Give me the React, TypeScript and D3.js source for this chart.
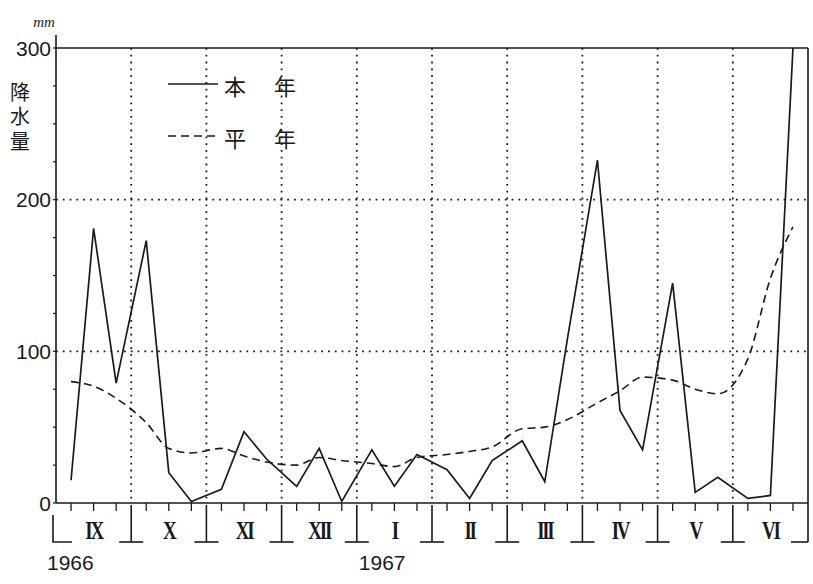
import React, { useEffect, useRef } from 'react';
import * as d3 from 'd3';

// month labels (Sept 1966 - June 1967), each month split in 3 dekads
const months = ['IX', 'X', 'XI', 'XII', 'I', 'II', 'III', 'IV', 'V', 'VI'];
const dekadFrac = [0.2, 0.5, 0.8];

// this year's precipitation per dekad (mm)
const thisYear = [
  15, 181, 79,
  173, 20, 1,
  9, 47, 29,
  11, 36, 1,
  35, 11, 32,
  22, 3, 28,
  41, 14, 108,
  226, 61, 35,
  145, 7, 17,
  3, 5, 300,
];

// normal year precipitation per dekad (mm)
const normalYear = [
  80, 77, 69,
  53, 36, 33,
  36, 31, 27,
  25, 30, 28,
  26, 24, 30,
  32, 34, 37,
  49, 50, 55,
  66, 74, 83,
  81, 75, 72,
  95, 148, 182,
];

const yTicks = [0, 100, 200, 300];
const yearLabels = [
  { text: '1966', month: 0 },
  { text: '1967', month: 4 },
];

function App() {
  const svgRef = useRef<SVGSVGElement | null>(null);

  useEffect(() => {
    const svg = d3.select(svgRef.current);
    const width = 813;
    const height = 584;
    svg.attr('width', width).attr('height', height);
    svg.selectAll('*').remove();

    const left = 56;
    const right = 808;
    const top = 48;
    const bottom = 503;
    const ink = '#1a1a1a';

    const x = d3.scaleLinear().domain([0, months.length]).range([left, right]);
    const y = d3.scaleLinear().domain([0, 300]).range([bottom, top]);

    const pos = (i: number) => Math.floor(i / 3) + dekadFrac[i % 3];

    // dotted grid
    const grid = svg.append('g').attr('stroke', ink).attr('stroke-width', 1.8)
      .attr('stroke-dasharray', '1.8,5');
    [100, 200].forEach((v) => {
      grid.append('line').attr('x1', left).attr('x2', right)
        .attr('y1', y(v)).attr('y2', y(v));
    });
    d3.range(1, months.length).forEach((m) => {
      grid.append('line').attr('x1', x(m)).attr('x2', x(m))
        .attr('y1', top).attr('y2', bottom);
    });

    // frame
    const frame = svg.append('g').attr('stroke', ink).attr('stroke-width', 1.6).attr('fill', 'none');
    frame.append('line').attr('x1', left).attr('x2', left).attr('y1', 35).attr('y2', bottom);
    frame.append('line').attr('x1', left).attr('x2', right).attr('y1', top).attr('y2', top);
    frame.append('line').attr('x1', right).attr('x2', right).attr('y1', top).attr('y2', 542);
    frame.append('line').attr('x1', left).attr('x2', right).attr('y1', bottom).attr('y2', bottom);

    // minor ticks on y axis
    d3.range(0, 301, 25).forEach((v) => {
      frame.append('line').attr('x1', left - 3).attr('x2', left)
        .attr('y1', y(v)).attr('y2', y(v)).attr('stroke-width', 1.2);
    });

    // dekad ticks under the axis
    thisYear.forEach((_, i) => {
      frame.append('line').attr('x1', x(pos(i))).attr('x2', x(pos(i)))
        .attr('y1', bottom).attr('y2', bottom + 8).attr('stroke-width', 1.3);
    });

    // month separators (inverted T shapes)
    d3.range(1, months.length).forEach((m) => {
      frame.append('line').attr('x1', x(m)).attr('x2', x(m))
        .attr('y1', bottom + 2).attr('y2', 542);
      frame.append('line').attr('x1', x(m) - 12).attr('x2', x(m) + 12)
        .attr('y1', 542).attr('y2', 542);
    });
    frame.append('path').attr('d', `M${left - 3},515V542H${left + 16}`);
    frame.append('line').attr('x1', right - 17).attr('x2', right).attr('y1', 542).attr('y2', 542);

    // month labels
    months.forEach((mName, m) => {
      svg.append('text')
        .attr('transform', `translate(${x(m + 0.5)},539) scale(0.76,1)`)
        .attr('text-anchor', 'middle')
        .attr('font-family', 'Liberation Serif, serif')
        .attr('font-weight', 'bold')
        .attr('font-size', 25)
        .attr('letter-spacing', -3)
        .attr('fill', ink)
        .text(mName);
    });

    // year labels
    yearLabels.forEach((d) => {
      svg.append('text')
        .attr('x', d.month === 0 ? 47 : x(d.month) + 2)
        .attr('y', 570)
        .attr('font-family', 'Liberation Sans, sans-serif')
        .attr('font-size', 21)
        .attr('fill', ink)
        .text(d.text);
    });

    // y tick labels
    yTicks.forEach((v) => {
      svg.append('text')
        .attr('x', 51)
        .attr('y', y(v) + 7.5)
        .attr('text-anchor', 'end')
        .attr('font-family', 'Liberation Sans, sans-serif')
        .attr('font-size', 21)
        .attr('fill', ink)
        .text(v);
    });

    // unit
    svg.append('text')
      .attr('x', 44).attr('y', 27)
      .attr('text-anchor', 'middle')
      .attr('font-family', 'Liberation Serif, serif')
      .attr('font-style', 'italic')
      .attr('font-size', 15)
      .attr('fill', ink)
      .text('mm');

    // y axis title, set vertically as one text
    svg.append('text')
      .attr('x', 20).attr('y', 82)
      .style('writing-mode', 'vertical-rl')
      .attr('font-family', 'Noto Sans CJK JP, sans-serif')
      .attr('font-size', 20)
      .attr('letter-spacing', 4.5)
      .attr('fill', ink)
      .text('降水量');

    // legend
    const legend = [
      { a: '本', b: '年', dash: null, yy: 84 },
      { a: '平', b: '年', dash: '8,5', yy: 136 },
    ];
    legend.forEach((l) => {
      svg.append('line').attr('x1', 168).attr('x2', 218).attr('y1', l.yy).attr('y2', l.yy)
        .attr('stroke', ink).attr('stroke-width', 1.5)
        .attr('stroke-dasharray', l.dash);
      [l.a, l.b].forEach((ch, j) => {
        svg.append('text')
          .attr('x', j === 0 ? 235 : 285).attr('y', l.yy + 11)
          .attr('text-anchor', 'middle')
          .attr('font-family', 'Noto Sans CJK JP, sans-serif')
          .attr('font-size', 22)
          .attr('fill', ink)
          .text(ch);
      });
    });

    // data lines
    svg.append('defs').append('clipPath').attr('id', 'plot-clip')
      .append('rect').attr('x', left).attr('y', top).attr('width', right - left).attr('height', bottom - top + 2);

    const normalLine = d3.line<number>()
      .x((_, i) => x(pos(i)))
      .y((d) => y(d))
      .curve(d3.curveMonotoneX);
    svg.append('path')
      .datum(normalYear)
      .attr('clip-path', 'url(#plot-clip)')
      .attr('d', normalLine)
      .attr('fill', 'none')
      .attr('stroke', ink)
      .attr('stroke-width', 1.6)
      .attr('stroke-dasharray', '8,5');

    const thisLine = d3.line<number>()
      .x((_, i) => x(pos(i)))
      .y((d) => y(d));
    svg.append('path')
      .datum(thisYear)
      .attr('clip-path', 'url(#plot-clip)')
      .attr('d', thisLine)
      .attr('fill', 'none')
      .attr('stroke', ink)
      .attr('stroke-width', 1.7)
      .attr('stroke-linejoin', 'miter');
  }, []);

  return (
    <div style={{ position: 'absolute', left: 0, top: 0, background: '#fff' }}>
      <svg ref={svgRef} style={{ display: 'block' }} />
    </div>
  );
}

export default App;
